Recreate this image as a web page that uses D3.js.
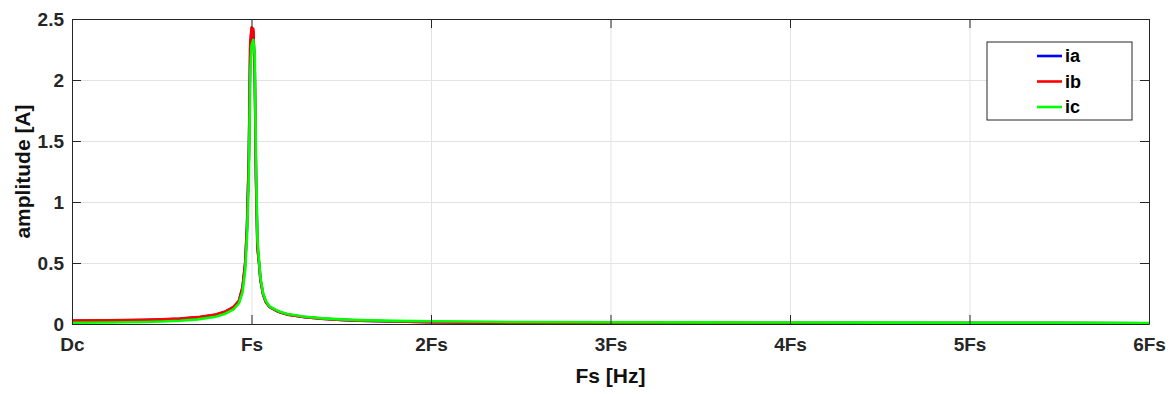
<!DOCTYPE html>
<html>
<head>
<meta charset="utf-8">
<script src="https://cdn.jsdelivr.net/npm/d3@7"></script>
<style>
  body { margin: 0; background: #fff; }
  svg { display: block; font-family: "Liberation Sans", Arial, sans-serif; font-weight: bold; }
</style>
</head>
<body>
<svg id="chart" width="1176" height="394"></svg>
<script>
// spectrum of phase currents, frequency in multiples of Fs
const freqs = [0, 0.2, 0.4, 0.5, 0.6, 0.7, 0.8, 0.85, 0.9, 0.93, 0.95, 0.965, 0.975, 0.985, 0.993, 1.0, 1.01, 1.018, 1.025, 1.033, 1.042, 1.05, 1.065, 1.08, 1.1, 1.15, 1.2, 1.3, 1.4, 1.5, 1.6, 1.8, 2.0, 2.2, 2.5, 3.0, 3.5, 4.0, 4.5, 5.0, 5.5, 6.0];

const ia = [0.026, 0.028, 0.032, 0.036, 0.043, 0.054, 0.076, 0.098, 0.138, 0.19, 0.3, 0.5, 0.8, 1.35, 2.28, 2.41, 2.4, 2.08, 1.2, 0.64, 0.5, 0.36, 0.24, 0.18, 0.14, 0.1, 0.078, 0.056, 0.043, 0.034, 0.028, 0.02, 0.015, 0.013, 0.011, 0.01, 0.009, 0.008, 0.008, 0.007, 0.007, 0.006];
const ib = [0.028, 0.03, 0.034, 0.038, 0.045, 0.056, 0.078, 0.1, 0.14, 0.19, 0.3, 0.5, 0.8, 1.35, 2.3, 2.43, 2.42, 2.1, 1.2, 0.62, 0.5, 0.36, 0.24, 0.18, 0.14, 0.1, 0.077, 0.055, 0.042, 0.034, 0.028, 0.02, 0.014, 0.012, 0.011, 0.01, 0.009, 0.008, 0.008, 0.007, 0.007, 0.006];
const ic = [0.01, 0.012, 0.016, 0.02, 0.027, 0.038, 0.06, 0.082, 0.12, 0.17, 0.26, 0.44, 0.72, 1.2, 2.05, 2.28, 2.33, 2.2, 1.35, 0.7, 0.52, 0.38, 0.25, 0.19, 0.145, 0.105, 0.082, 0.06, 0.046, 0.038, 0.032, 0.026, 0.022, 0.02, 0.016, 0.014, 0.013, 0.012, 0.011, 0.01, 0.009, 0.008];

const seriesNames = ['ia', 'ib', 'ic'];
const seriesColors = ['#0000ff', '#ff0000', '#00ff00'];
const seriesValues = [ia, ib, ic];

const xTicks = [0, 1, 2, 3, 4, 5, 6];
const xTickLabels = ['Dc', 'Fs', '2Fs', '3Fs', '4Fs', '5Fs', '6Fs'];
const yTicks = [0, 0.5, 1, 1.5, 2, 2.5];
const yTickLabels = ['0', '0.5', '1', '1.5', '2', '2.5'];

const svg = d3.select('#chart');
const margin = { top: 19, right: 27, bottom: 70, left: 72 };
const width = +svg.attr('width');
const height = +svg.attr('height');
const W = width - margin.left - margin.right;
const H = height - margin.top - margin.bottom;

const x = d3.scaleLinear().domain([0, 6]).range([0, W]);
const y = d3.scaleLinear().domain([0, 2.5]).range([H, 0]);

const g = svg.append('g').attr('transform', `translate(${margin.left},${margin.top})`);

// grid
g.append('g').attr('transform', `translate(0,${H})`)
  .call(d3.axisBottom(x).tickValues(xTicks).tickSize(-H).tickFormat(''))
  .call(a => a.select('.domain').remove())
  .call(a => a.selectAll('line').attr('stroke', '#e3e3e3'));
g.append('g')
  .call(d3.axisLeft(y).tickValues(yTicks).tickSize(-W).tickFormat(''))
  .call(a => a.select('.domain').remove())
  .call(a => a.selectAll('line').attr('stroke', '#e3e3e3'));

// lines
const line = d3.line().x((d, i) => x(freqs[i])).y(d => y(d));
seriesValues.forEach((vals, k) => {
  g.append('path').datum(vals)
    .attr('fill', 'none')
    .attr('stroke', seriesColors[k])
    .attr('stroke-width', 2.6)
    .attr('stroke-linejoin', 'round')
    .attr('d', line);
});

// axes (ticks inward on all four sides)
function styleAxis(a, fs) {
  a.select('.domain').attr('stroke', '#262626');
  a.selectAll('line').attr('stroke', '#262626');
  a.selectAll('text').attr('fill', '#262626').style('font-size', fs + 'px').style('font-weight', 'bold')
    .style('font-family', '"Liberation Sans", Arial, sans-serif');
}
g.append('g').attr('transform', `translate(0,${H})`)
  .call(d3.axisBottom(x).tickValues(xTicks).tickSize(-9).tickSizeOuter(0).tickPadding(14)
    .tickFormat((d, i) => xTickLabels[i]))
  .call(a => styleAxis(a, 19));
g.append('g')
  .call(d3.axisTop(x).tickValues(xTicks).tickSize(-9).tickSizeOuter(0).tickFormat(''))
  .call(a => styleAxis(a, 19));
g.append('g')
  .call(d3.axisLeft(y).tickValues(yTicks).tickSize(-9).tickSizeOuter(0).tickPadding(8)
    .tickFormat((d, i) => yTickLabels[i]))
  .call(a => styleAxis(a, 19));
g.append('g').attr('transform', `translate(${W},0)`)
  .call(d3.axisRight(y).tickValues(yTicks).tickSize(-9).tickSizeOuter(0).tickFormat(''))
  .call(a => styleAxis(a, 19));

// axis labels
svg.append('text')
  .attr('x', margin.left + W / 2).attr('y', 383)
  .attr('text-anchor', 'middle').attr('fill', '#111')
  .style('font-size', '21px').text('Fs [Hz]');
svg.append('text')
  .attr('transform', `translate(30,${margin.top + H / 2}) rotate(-90)`)
  .attr('text-anchor', 'middle').attr('fill', '#111')
  .style('font-size', '21px').text('amplitude [A]');

// legend
const lg = svg.append('g').attr('transform', 'translate(987,42)');
lg.append('rect').attr('width', 145).attr('height', 78)
  .attr('fill', '#fff').attr('stroke', '#262626').attr('stroke-width', 1);
seriesNames.forEach((name, k) => {
  const yy = 14 + k * 25.5;
  lg.append('line').attr('x1', 50).attr('x2', 75).attr('y1', yy).attr('y2', yy)
    .attr('stroke', seriesColors[k]).attr('stroke-width', 2.6);
  lg.append('text').attr('x', 78).attr('y', yy).attr('dy', '0.35em')
    .attr('fill', '#000').style('font-size', '18px').text(name);
});
</script>
</body>
</html>
